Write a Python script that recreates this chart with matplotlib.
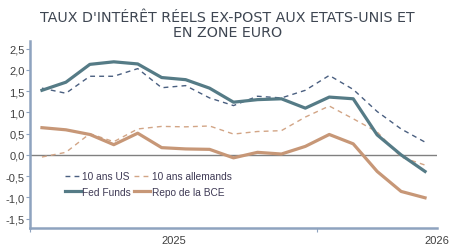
import numpy as np
import matplotlib
matplotlib.use('Agg')
import matplotlib.pyplot as plt

# données mensuelles (jan. 2025 -> mai 2026)
mois = list(range(17))
us_10 = [1.57, 1.45, 1.85, 1.85, 2.03, 1.58, 1.63, 1.34, 1.16, 1.38, 1.34, 1.52, 1.87, 1.54, 1.02, 0.61, 0.30]
de_10 = [-0.05, 0.06, 0.50, 0.31, 0.61, 0.67, 0.66, 0.68, 0.49, 0.55, 0.57, 0.89, 1.15, 0.85, 0.54, -0.05, -0.24]
fed_funds = [1.52, 1.71, 2.13, 2.19, 2.14, 1.82, 1.77, 1.57, 1.24, 1.30, 1.32, 1.10, 1.36, 1.32, 0.47, 0.00, -0.39]
repo_bce = [0.64, 0.59, 0.48, 0.24, 0.51, 0.17, 0.14, 0.13, -0.07, 0.06, 0.02, 0.20, 0.48, 0.26, -0.39, -0.86, -1.01]

y_ticks = [-1.5, -1.0, -0.5, 0.0, 0.5, 1.0, 1.5, 2.0, 2.5]
annees = ['2025', '2026']
annees_pos = [5.5, 16.5]

plt.rcParams['font.family'] = ['Liberation Sans', 'DejaVu Sans']

fig = plt.figure(figsize=(4.51, 2.53), dpi=100)
ax = fig.add_axes([0.0665, 0.095, 0.9025, 0.739])

l_us, = ax.plot(mois, us_10, color='#4A5F80', lw=1.0, ls=(0, (3.5, 3)), label='10 ans US')
l_de, = ax.plot(mois, de_10, color='#D2A586', lw=1.0, ls=(0, (3.5, 3)), label='10 ans allemands')
l_fed, = ax.plot(mois, fed_funds, color='#557B86', lw=2.3, label='Fed Funds')
l_bce, = ax.plot(mois, repo_bce, color='#C79777', lw=2.3, label='Repo de la BCE')

ax.axhline(0, color='#808080', lw=1.0, zorder=0)

ax.set_xlim(-0.5, 16.5)
ax.set_ylim(-1.72, 2.68)
ax.set_yticks(y_ticks)
ax.set_yticklabels([('%.1f' % v).replace('.', ',') for v in y_ticks])
ax.set_xticks([-0.5, 11.5])
ax.set_xticklabels(['', ''])
for lab, pos in zip(annees, annees_pos):
    ax.text(pos, -0.035, lab, transform=ax.get_xaxis_transform(), ha='center', va='top',
            fontsize=8, color='#404040')

for s in ['top', 'right']:
    ax.spines[s].set_visible(False)
for s in ['left', 'bottom']:
    ax.spines[s].set_color('#8EA3BF')
    ax.spines[s].set_linewidth(1.8)
ax.tick_params(axis='y', length=3, width=0.8, color='#8EA3BF', labelsize=8, labelcolor='#404040', pad=1)
ax.tick_params(axis='x', length=3, width=0.8, color='#8EA3BF')

# ordre pour avoir US / allemands sur la 1re ligne
leg = ax.legend([l_us, l_fed, l_de, l_bce], ['10 ans US', 'Fed Funds', '10 ans allemands', 'Repo de la BCE'],
                loc='lower left', bbox_to_anchor=(0.075, 0.145), ncol=2, frameon=False,
                fontsize=7.3, handlelength=1.6, handletextpad=0.15, columnspacing=0.3,
                labelspacing=0.55, borderaxespad=0)
for t in leg.get_texts():
    t.set_color('#3F3A55')

fig.text(0.505, 0.955, "TAUX D'INTÉRÊT RÉELS EX-POST AUX ETATS-UNIS ET\nEN ZONE EURO",
         ha='center', va='top', fontsize=10.3, color='#3E4652', family='DejaVu Sans',
         linespacing=1.1)

fig.savefig('out.png', dpi=100)
